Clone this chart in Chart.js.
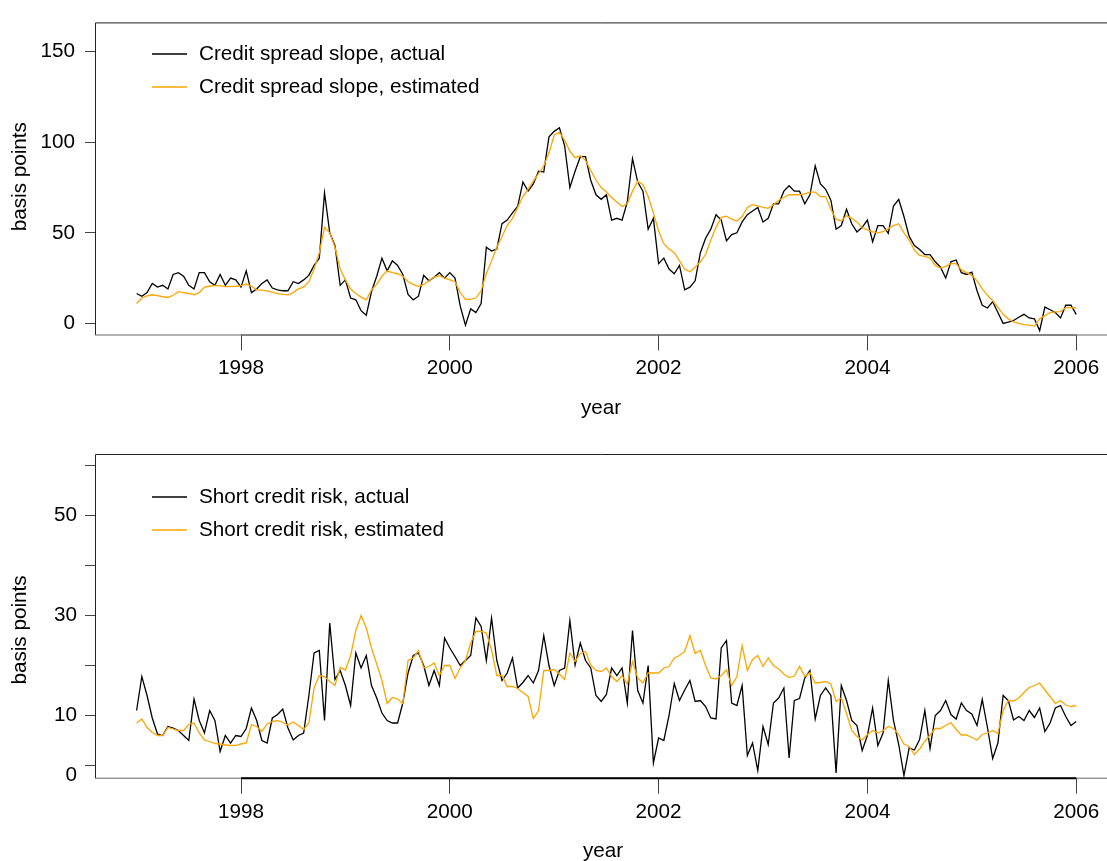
<!DOCTYPE html>
<html><head><meta charset="utf-8">
<script src="https://cdn.jsdelivr.net/npm/chart.js@4"></script>
<style>
html,body{margin:0;padding:0;background:#fff;width:1107px;height:861px;overflow:hidden}
canvas{position:absolute;left:0}
#topChart{top:0}
#botChart{top:430px}
</style></head><body>
<canvas id="topChart" width="1107" height="430"></canvas>
<canvas id="botChart" width="1107" height="431"></canvas>
<script>
// ---- data (sampled every 0.05 year from 1997.0) ----
const startYear = 1997.0;
const stepYear = 0.05;
const xTicks = [1998, 2000, 2002, 2004, 2006];
const topYTicks = [0, 50, 100, 150];
const botYTicks = [-2, 0, 10, 20, 30, 40, 50, 60];
const botYTickText = ['0', '', '10', '', '30', '', '50', ''];
const topLegend = ['Credit spread slope, actual', 'Credit spread slope, estimated'];
const botLegend = ['Short credit risk, actual', 'Short credit risk, estimated'];

const topActual = [16.5,15,17,22,20,21,19,27,28,26,
21,19,28,28,23,21,27,21,25,24,
20,29,17,19,22,24,19.5,18.5,18,18,
23,22,24,26.5,32,36,72,50,43,21,
24,14,13,7,4.5,17.6,26,36,29,34.5,
32,27,16,13,15,26.5,23.5,25.5,28,25,
28,25,9.5,-1,8,6,11,42,40,41,
55,57,61,64.5,78,73,77,84,83.5,103,
106,108,98,75,84,92,92,79,71,68.5,
71,57,58,57,67,91,78,73,52,58,
33,36,30,27.4,32,18.5,20,23.5,39,47,
52,60,57,45.5,49,50,56,60,62,64,
56,58,66,66,73,76,73,73,66,71,
87,77,74,68,52,54,63,55,50.5,53,
57,45,54,54,49.7,64.8,68.4,59,48,43,
40.8,38,38,34,31,25,34,35,28,27,
28.3,18,10,8.5,12,6,0,0.7,1.6,3.4,
5,3,2.5,-4,9,7.5,6,3,10,10,
5];
const topEstimated = [11,14,15.2,15.8,15.3,14.7,14.3,15.5,17.5,17,
16.5,15.8,17,20,20.5,21,20.8,20.3,20.3,20.5,
20.8,21.7,20.5,18.5,18.3,18,17.2,16.4,16,15.7,
17,19,20,23,30,39,53,50,42,30,
24,19,16.5,14.5,13,18.5,21.5,26,29,28,
27.4,26,23,21.5,20.3,21.5,23.5,25.6,26.3,25,
24,23,17,13.2,13.2,14,18,27.5,34.5,42,
48,54,58,64,70,74,78.5,82.6,87,94,
104,105.5,101,95,91.5,92.5,90,84.5,79,75,
72.5,69.5,67,64.5,66,73,78.5,76.5,70,61,
51,44,41,39,34.5,30,28.5,31,34,38,
46,53,58.5,59.2,57.5,56.5,59,64,65.5,64.8,
64,63.5,65.5,68,69.5,71,71,71,71.5,72.5,
72.5,70,70,63,57.5,56.5,59.5,58,56,52.8,
51.6,50.5,50,50.6,52.3,54,55,50,46,40.5,
37.5,37,36,32,30.5,31.5,33,33,29.5,28,
26.5,23.5,19,15.5,12.5,9,5,2.5,0.8,0,
-0.7,-1,-1.5,2.5,4.3,6,6.3,6.5,8.7,8.7,
8.5];
const botActual = [11,17.8,14,9.5,6.3,6,7.8,7.5,7,6,
5,13.3,9,6.5,11,9,2.8,6,4.5,6,
5.8,7.4,11.5,9,5,4.5,9.5,10.2,11.3,7.5,
5.1,6,6.5,14,22.5,23,9,28.5,17.2,19,
16,12,22.5,19.5,22,16,13.5,10.5,9,8.5,
8.5,12.5,18.5,22,22.5,20,16,19,16,25.5,
23.5,21.8,20,21,22,29.5,27.8,21,29.5,21,
17,18.5,21.5,15.5,16.6,18,16.5,19,26,20,
16,19,19.5,29,20.1,24.5,21,19.5,14,12.8,
14.2,19.5,18,19.5,12.5,27,15,12.5,20,0.5,
5.5,5,10,16.4,13,15.1,17,12.8,13,11.8,
9.5,9.3,23.5,25,12.5,12,16,2,4.5,-1,
7.8,4.2,12.5,13.5,15.5,1.5,13,13.4,17.5,19,
9.3,14,15.5,14,-1.5,16,13,9,8,3,
6,11.5,4,6.5,17,9,4.2,-2,3.5,3.1,
5.2,11,3.4,10,11,13,10.2,9.3,12.5,11,
10.3,8,13.2,7.6,1.4,4.5,14,13,9.1,9.8,
9,11,9.6,11.5,6.8,8.5,11.5,12,9.8,8,
8.8];
const botEstimated = [8.5,9.3,7.6,6.6,6,6,7.6,7.3,7,7,
8.2,8.5,6.5,5.1,4.8,4.4,4.3,4.1,4,4,
4.3,4.5,8.2,7.8,6.8,8.3,8.8,9,8.6,8.1,
8.7,8,7.2,8.5,15.5,18,17.8,16.8,16,19.6,
19.1,22,27,30,27.5,23.5,20.3,17,12.4,13.6,
13.3,12.4,21,21.5,23,19.5,19.8,20.5,18,20,
20,17.4,19.5,21,24.5,26.8,26.8,26.5,23.1,18,
18,15.8,15.8,15.4,14.6,13.8,9.4,11,19,19,
19.2,18.3,17.2,22.5,20.8,22.4,22.8,20.1,19,18.8,
19.5,17.8,16.8,18,16.3,20.8,17.5,16.5,18.5,18.5,
18.5,19.5,19.8,21.5,22,22.8,26,22.4,23,20,
17.5,17.3,18,19.1,16,17.8,24,19,21.2,22,
19.8,21.5,20,19.3,18.3,17.6,17.9,19.8,17.8,18.6,
16.5,16.6,16.8,16.3,12.8,13.5,10.4,7,5.8,5.1,
6.2,7,6.5,7,7.8,7.4,6.2,4.3,3.8,2.2,
3.3,4.8,6.1,7.4,7.4,8,8.6,7.2,6.1,6.1,
5.6,5.1,6.2,6.5,7,6.4,11,13,12.9,13.5,
14.6,15.6,16,16.5,15.1,13.8,12.4,13,12.1,11.8,
12];

// ---- styling ----
const FONT = 'Liberation Sans, Arial, Helvetica, sans-serif';
const FS = 20.7;
const ORANGE = '#FFA500';
Chart.defaults.font.family = FONT;
Chart.defaults.font.size = FS;
Chart.defaults.color = '#000';

function toPoints(arr) { return arr.map((v, i) => ({ x: startYear + i * stepYear, y: v })); }

const framePlugin = {
  id: 'frame',
  afterDraw(chart, args, o) {
    const { ctx, chartArea: a } = chart;
    const xs = chart.scales.x;
    ctx.save();
    ctx.strokeStyle = '#222';
    ctx.lineWidth = 1;
    ctx.beginPath();
    ctx.moveTo(a.left + 0.5, a.bottom + 0.5);
    ctx.lineTo(a.left + 0.5, a.top + 0.5);
    ctx.lineTo(a.right + 2, a.top + 0.5);
    ctx.stroke();
    ctx.strokeStyle = '#666';
    ctx.beginPath();
    ctx.moveTo(a.left, a.bottom + 0.5);
    ctx.lineTo(a.right + 2, a.bottom + 0.5);
    ctx.stroke();
    ctx.strokeStyle = o.axisColor;
    ctx.lineWidth = o.axisWidth;
    ctx.beginPath();
    ctx.moveTo(xs.getPixelForValue(xTicks[0]), a.bottom + 0.5);
    ctx.lineTo(xs.getPixelForValue(xTicks[xTicks.length - 1]), a.bottom + 0.5);
    ctx.stroke();
    ctx.font = FS + 'px ' + FONT;
    ctx.textBaseline = 'middle';
    ctx.textAlign = 'left';
    const cols = ['#000000', ORANGE];
    o.legend.forEach((t, i) => {
      const y = o.legendY[i];
      ctx.strokeStyle = cols[i];
      ctx.lineWidth = 1.3;
      ctx.beginPath();
      ctx.moveTo(152, y);
      ctx.lineTo(187, y);
      ctx.stroke();
      ctx.fillStyle = '#000';
      ctx.fillText(t, 199, y);
    });
    ctx.fillStyle = '#000';
    ctx.textAlign = 'center';
    ctx.fillText('year', o.xTitle[0], o.xTitle[1]);
    ctx.save();
    ctx.translate(o.yTitle[0], o.yTitle[1]);
    ctx.rotate(-Math.PI / 2);
    ctx.fillText('basis points', 0, 0);
    ctx.restore();
    ctx.restore();
  }
};

function makeChart(id, actual, estimated, cfg) {
  return new Chart(document.getElementById(id), {
    type: 'line',
    data: {
      datasets: [
        { data: toPoints(actual), borderColor: '#000', borderWidth: 1.3, pointRadius: 0, tension: 0, order: 2 },
        { data: toPoints(estimated), borderColor: ORANGE, borderWidth: 1.3, pointRadius: 0, tension: 0, order: 1 }
      ]
    },
    options: {
      responsive: false,
      devicePixelRatio: 1,
      animation: false,
      events: [],
      layout: { padding: { left: 0, right: 0, top: cfg.padTop, bottom: 0 } },
      plugins: {
        legend: { display: false },
        tooltip: { enabled: false },
        frame: cfg.frame
      },
      scales: {
        x: {
          type: 'linear',
          min: 1996.6015,
          max: 2006.295,
          afterBuildTicks: s => { s.ticks = xTicks.map(v => ({ value: v })); },
          afterFit: s => { s.height = cfg.xHeight; },
          grid: { drawOnChartArea: false, drawTicks: true, tickLength: 16, tickColor: '#444', tickWidth: 1 },
          border: { display: false },
          ticks: { autoSkip: false, maxRotation: 0, padding: cfg.xPad, color: '#000', callback: v => String(v) }
        },
        y: {
          type: 'linear',
          min: cfg.yMin,
          max: cfg.yMax,
          afterBuildTicks: s => { s.ticks = cfg.yTicks.map(v => ({ value: v })); },
          afterFit: s => { s.width = 95; },
          grid: {
            drawOnChartArea: false, drawTicks: true, tickLength: 10, tickWidth: 1,
            tickColor: c => (cfg.hideTick && c.index === 0) ? 'rgba(0,0,0,0)' : '#444'
          },
          border: { display: false },
          ticks: { autoSkip: false, padding: cfg.yPad, color: '#000', callback: cfg.yLabel }
        }
      }
    },
    plugins: [framePlugin]
  });
}

makeChart('topChart', topActual, topEstimated, {
  padTop: 12, xHeight: 95.5, xPad: 5.4, yPad: 10,
  yMin: -6.14, yMax: 166.13, yTicks: topYTicks, hideTick: false,
  yLabel: v => String(v),
  frame: { legend: topLegend, legendY: [54, 87], xTitle: [601, 408], yTitle: [20.5, 176.7], axisColor: '#555', axisWidth: 1 }
});

makeChart('botChart', botActual, botEstimated, {
  padTop: 24, xHeight: 83.3, xPad: 5.9, yPad: 8,
  yMin: -2.44, yMax: 62.3, yTicks: botYTicks, hideTick: true,
  yLabel: (v, i) => botYTickText[i],
  frame: { legend: botLegend, legendY: [67, 100], xTitle: [603, 421], yTitle: [20.5, 200], axisColor: '#000', axisWidth: 2 }
});
</script>
</body></html>
